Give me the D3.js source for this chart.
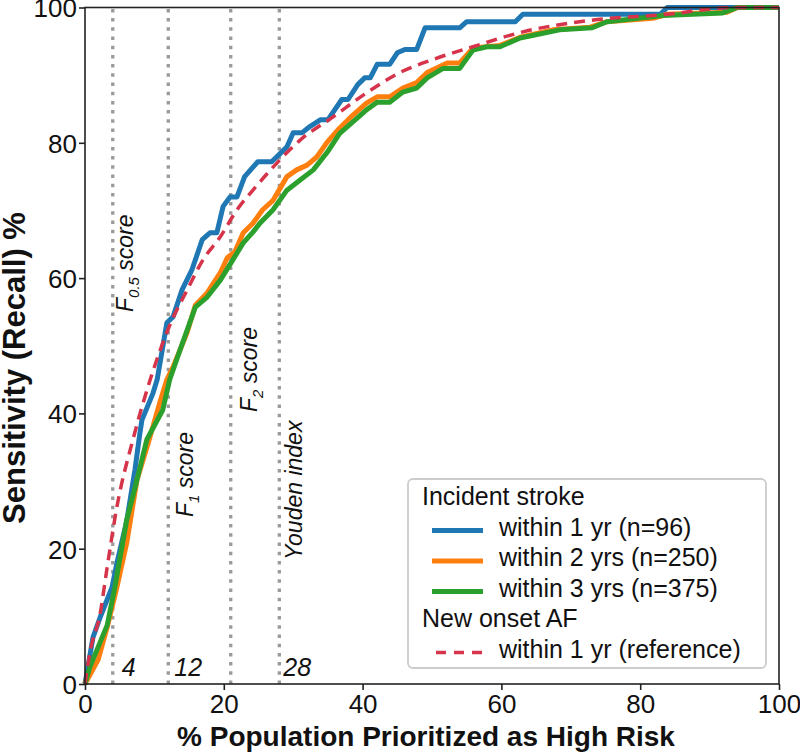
<!DOCTYPE html>
<html lang="en">
  <head>
    <meta charset="UTF-8" />
    <title>Sensitivity curves</title>
    <script src="https://d3js.org/d3.v7.min.js"></script>
    <style>
      body {
        margin: 0;
        background: #fff;
      }
      * {
        font-family: "Liberation Sans", Arial, sans-serif;
      }
      .tick text {
        font-size: 26px;
        fill: #111;
      }
      .axis-title {
        font-size: 28px;
        font-weight: bold;
        fill: #111;
      }
      .vlabel {
        font-size: 23px;
        font-style: italic;
        fill: #111;
      }
      .cutnum {
        font-size: 25px;
        font-style: italic;
        fill: #111;
      }
      .legend text {
        font-size: 25px;
        fill: #111;
      }
    </style>
  </head>
  <body></body>
  <script>
    // curves as [x %, y %]
    const stroke1yr = [
      [0, 0], [1.15, 6.9], [2.2, 9.9], [3.9, 14.3], [4.6, 17.9], [6.0, 24], [7.2, 31.7],
      [7.9, 37], [8.2, 39], [9.8, 43], [10.4, 45], [11.8, 53.4], [12.7, 54.3], [14.0, 58.3],
      [15.4, 61.2], [16.9, 65.7], [18.0, 66.7], [19.0, 66.7], [19.9, 70.6], [20.9, 72.0],
      [21.9, 72.0], [23.0, 75.0], [24.9, 77.2], [26.9, 77.2], [29.1, 79.4], [30.0, 81.5],
      [31.3, 81.5], [32.4, 82.4], [33.9, 83.4], [35.0, 83.4], [37.0, 86.4], [37.9, 86.4],
      [39.3, 88.6], [40.3, 89.6], [41.1, 89.6], [42.1, 91.6], [43.9, 91.6], [45.0, 93.3],
      [46.1, 93.8], [47.8, 93.8], [49.0, 97.0], [54.0, 97.0], [55.0, 97.9], [62.0, 97.9],
      [63.1, 99.0], [82.9, 99.0], [83.9, 100], [100, 100]
    ];
    const stroke2yr = [
      [0, 0], [1.9, 3.6], [3.2, 8.4], [4.6, 14.3], [6.0, 20.8], [7.5, 30.2], [9.1, 35.6],
      [10.8, 41.7], [11.8, 45], [12.7, 46.9], [14.7, 51.9], [15.9, 56.0], [17.6, 57.8],
      [19.5, 60.8], [20.5, 63.0], [21.6, 63.9], [22.8, 66.7], [24.2, 68.1], [25.6, 70.1],
      [27.1, 71.5], [29.1, 75.0], [30.5, 76.0], [32.0, 76.7], [33.4, 77.9], [34.9, 80.1],
      [36.7, 82.2], [38.6, 84.1], [40.6, 85.9], [42.1, 86.8], [43.9, 86.8], [45.8, 88.1],
      [47.8, 88.9], [49.3, 90.4], [52.2, 91.8], [54.0, 91.8], [55.9, 94.0], [59.8, 94.4],
      [62.7, 95.6], [67.4, 96.7], [72.8, 97.1], [75.2, 97.9], [81.8, 98.4], [83.9, 99.0],
      [92.5, 99.3], [94.0, 100], [100, 100]
    ];
    const stroke3yr = [
      [0, 0], [0.7, 2.5], [3.2, 8.7], [4.3, 14.3], [6.0, 24.2], [7.5, 30.2], [8.9, 36.1],
      [11.2, 40.5], [12.2, 45], [13.7, 49.4], [15.9, 55.7], [17.6, 57.2], [19.5, 59.7],
      [21.3, 62.7], [22.8, 65.2], [24.2, 66.8], [25.2, 68.1], [27.1, 70.1], [29.1, 73.0],
      [31.0, 74.5], [32.9, 76.0], [34.9, 78.6], [36.7, 81.4], [38.6, 83.1], [40.6, 84.9],
      [42.1, 86.0], [43.9, 86.0], [45.8, 87.5], [47.8, 88.1], [49.3, 89.6], [51.6, 91.0],
      [54.0, 91.0], [55.9, 93.7], [57.9, 94.2], [59.8, 94.2], [62.7, 95.5], [68.4, 96.7],
      [73.1, 97.0], [75.2, 97.9], [83.3, 98.8], [91.9, 99.2], [94.0, 100], [100, 100]
    ];
    const afReference = [
      [0, 0], [0.7, 4.6], [2.2, 10.5], [3.2, 17.3], [4.6, 26.2], [6.9, 36.1], [9.4, 45],
      [12.2, 53.0], [14.7, 58.2], [17.0, 62.7], [19.5, 66.1], [21.9, 70.1], [24.2, 73],
      [27.1, 76.4], [31.0, 80.4], [35.7, 83.8], [40.6, 87.4], [45.4, 90.4], [50.1, 92.3],
      [55.9, 94.2], [63.1, 96.4], [72.8, 98.1], [83.9, 99.0], [93.4, 100], [100, 100]
    ];

    const cutoffs = [4, 12, 21, 28];
    const cutoffNames = ["F0.5", "F1", "F2", "Youden"];
    const cutoffNumbers = ["4", "12", "", "28"];
    const ticks = [0, 20, 40, 60, 80, 100];

    const W = 800, H = 754;
    const margin = { top: 7.5, right: 21, bottom: 70, left: 85 };

    const x = d3.scaleLinear().domain([0, 100]).range([margin.left, W - margin.right]);
    const y = d3.scaleLinear().domain([0, 100]).range([H - margin.bottom, margin.top]);

    const svg = d3.select("body").append("svg").attr("width", W).attr("height", H);

    // dotted cut-off lines
    svg.selectAll(".cut")
      .data(cutoffs)
      .enter()
      .append("line")
      .attr("x1", (d) => x(d))
      .attr("x2", (d) => x(d))
      .attr("y1", y(0))
      .attr("y2", y(100))
      .attr("stroke", "#9a9a9a")
      .attr("stroke-width", 3.3)
      .attr("stroke-dasharray", "3.5,5.7");

    // rotated names next to the lines
    const labelPos = [
      { dx: 20, start: 312 },
      { dx: 25, start: 517 },
      { dx: 26, start: 412 },
      { dx: 23, start: 560 }
    ];
    cutoffNames.forEach(function (name, i) {
      const px = x(cutoffs[i]) + labelPos[i].dx;
      const t = svg.append("text")
        .attr("class", "vlabel")
        .attr("transform", `translate(${px},${labelPos[i].start}) rotate(-90)`);
      if (name === "Youden") {
        t.text("Youden index");
      } else {
        t.append("tspan").text("F");
        t.append("tspan")
          .attr("font-size", "15px")
          .attr("dy", 6)
          .text(name.slice(1));
        t.append("tspan").attr("dy", -6).text(" score");
      }
    });

    svg.selectAll(".cutnum")
      .data(cutoffs)
      .enter()
      .append("text")
      .attr("class", "cutnum")
      .attr("x", (d, i) => x(d) + (i === 0 ? 9 : i === 1 ? 6 : 4))
      .attr("y", 676)
      .text((d, i) => cutoffNumbers[i]);

    // curves
    const line = d3.line().x((d) => x(d[0])).y((d) => y(d[1]));
    const series = [
      { data: stroke1yr, color: "#1f77b4" },
      { data: stroke2yr, color: "#ff7f0e" },
      { data: stroke3yr, color: "#2ca02c" }
    ];
    series.forEach(function (s) {
      svg.append("path")
        .datum(s.data)
        .attr("d", line)
        .attr("fill", "none")
        .attr("stroke", s.color)
        .attr("stroke-width", 5)
        .attr("stroke-linejoin", "round");
    });
    svg.append("path")
      .datum(afReference)
      .attr("d", line.curve(d3.curveMonotoneX))
      .attr("fill", "none")
      .attr("stroke", "#d6344a")
      .attr("stroke-width", 3.5)
      .attr("stroke-dasharray", "11,7");

    // axes and frame
    const xAxis = svg.append("g")
      .attr("transform", `translate(0,${y(0)})`)
      .call(d3.axisBottom(x).tickValues(ticks).tickSize(6).tickPadding(3));
    const yAxis = svg.append("g")
      .attr("transform", `translate(${x(0)},0)`)
      .call(d3.axisLeft(y).tickValues(ticks).tickSize(6).tickPadding(2));
    [xAxis, yAxis].forEach(function (a) {
      a.selectAll(".domain").remove();
      a.selectAll(".tick line").attr("stroke", "#222").attr("stroke-width", 1.6);
    });
    yAxis.selectAll(".tick text").attr("dy", "0.36em");
    xAxis.selectAll(".tick text").attr("dy", "0.76em");

    svg.append("rect")
      .attr("x", x(0))
      .attr("y", y(100))
      .attr("width", x(100) - x(0))
      .attr("height", y(0) - y(100))
      .attr("fill", "none")
      .attr("stroke", "#222")
      .attr("stroke-width", 1.6);

    svg.append("text")
      .attr("class", "axis-title")
      .attr("x", 426)
      .attr("y", 746)
      .attr("text-anchor", "middle")
      .text("% Population Prioritized as High Risk");
    svg.append("text")
      .attr("class", "axis-title")
      .style("font-size", "31px")
      .attr("transform", `translate(25,368) rotate(-90)`)
      .attr("text-anchor", "middle")
      .text("Sensitivity (Recall) %");

    // legend
    const legend = svg.append("g").attr("class", "legend");
    legend.append("rect")
      .attr("x", 408)
      .attr("y", 479)
      .attr("width", 358)
      .attr("height", 189)
      .attr("rx", 5)
      .attr("fill", "#fff")
      .attr("fill-opacity", 0.85)
      .attr("stroke", "#cccccc")
      .attr("stroke-width", 1.8);

    const legendRows = [
      { label: "Incident stroke", header: true },
      { label: "within 1 yr (n=96)", color: "#1f77b4" },
      { label: "within 2 yrs (n=250)", color: "#ff7f0e" },
      { label: "within 3 yrs (n=375)", color: "#2ca02c" },
      { label: "New onset AF", header: true },
      { label: "within 1 yr (reference)", color: "#d6344a", dashed: true }
    ];
    legendRows.forEach(function (r, i) {
      const by = 505 + i * 30.5;
      if (r.header) {
        legend.append("text").attr("x", 422).attr("y", by).text(r.label);
        return;
      }
      legend.append("line")
        .attr("x1", r.dashed ? 436 : 432)
        .attr("x2", 483)
        .attr("y1", by - 5)
        .attr("y2", by - 5)
        .attr("stroke", r.color)
        .attr("stroke-width", r.dashed ? 3.5 : 5)
        .attr("stroke-dasharray", r.dashed ? "10,8" : null);
      legend.append("text").attr("x", 499).attr("y", by).text(r.label);
    });
  </script>
</html>
